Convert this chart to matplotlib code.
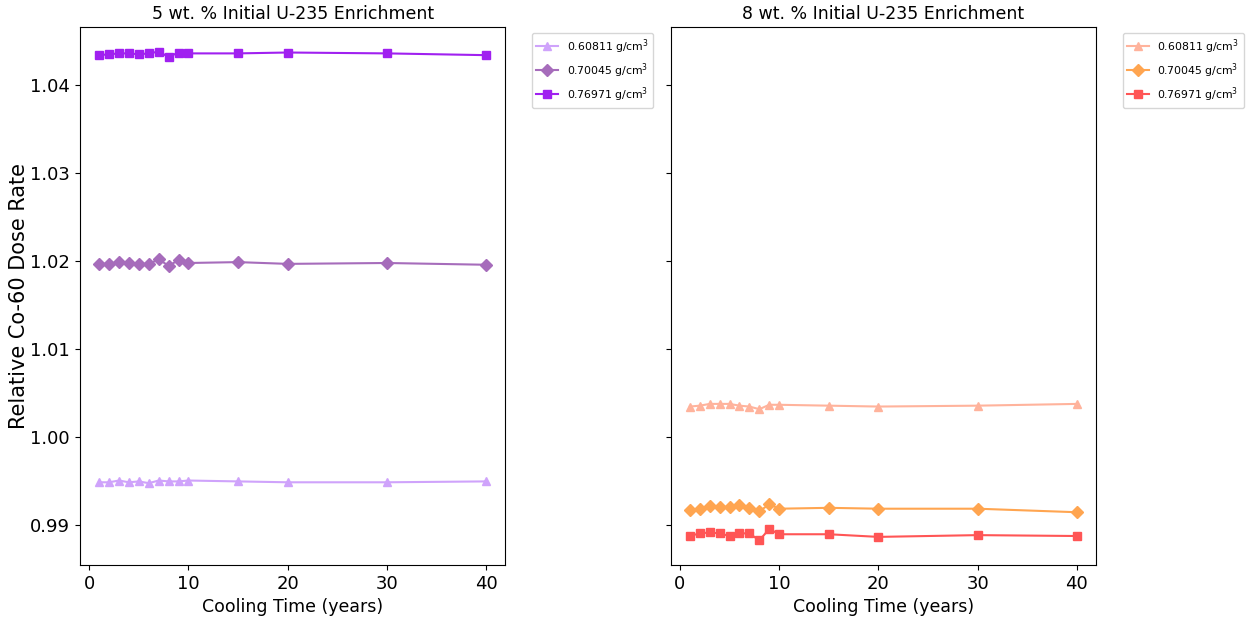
import numpy as np
import matplotlib.pyplot as plt

# cooling time in years
t = [1, 2, 3, 4, 5, 6, 7, 8, 9, 10, 15, 20, 30, 40]

labels = ['0.60811 g/cm$^3$', '0.70045 g/cm$^3$', '0.76971 g/cm$^3$']

# 5 wt.% enrichment
e5_d1 = [0.9949, 0.9949, 0.9951, 0.9949, 0.9950, 0.9948, 0.9951, 0.9950, 0.9950, 0.9951, 0.9950, 0.9949, 0.9949, 0.9950]
e5_d2 = [1.0197, 1.0197, 1.0199, 1.0198, 1.0197, 1.0197, 1.0202, 1.0195, 1.0201, 1.0198, 1.0199, 1.0197, 1.0198, 1.0196]
e5_d3 = [1.0434, 1.0435, 1.0436, 1.0436, 1.0435, 1.0436, 1.0438, 1.0432, 1.0437, 1.0436, 1.0436, 1.0437, 1.0436, 1.0434]

# 8 wt.% enrichment
e8_d1 = [1.0035, 1.0036, 1.0038, 1.0038, 1.0038, 1.0036, 1.0035, 1.0032, 1.0037, 1.0037, 1.0036, 1.0035, 1.0036, 1.0038]
e8_d2 = [0.9917, 0.9919, 0.9922, 0.9921, 0.9921, 0.9923, 0.9920, 0.9916, 0.9924, 0.9919, 0.9920, 0.9919, 0.9919, 0.9915]
e8_d3 = [0.9888, 0.9891, 0.9892, 0.9891, 0.9888, 0.9891, 0.9891, 0.9883, 0.9896, 0.9890, 0.9890, 0.9887, 0.9889, 0.9888]

markers = ['^', 'D', 's']
c5 = ['#cfa3fb', '#a66cbb', '#a020f0']
c8 = ['#ffb39c', '#ffa550', '#ff5555']

fig, (ax1, ax2) = plt.subplots(1, 2, sharey=True, figsize=(12.47, 6.18), dpi=100)
fig.subplots_adjust(left=0.064, right=0.879, bottom=0.086, top=0.956, wspace=0.388)

for y, m, c, lab in zip([e5_d1, e5_d2, e5_d3], markers, c5, labels):
  ax1.plot(t, y, marker=m, color=c, label=lab, markersize=6)
for y, m, c, lab in zip([e8_d1, e8_d2, e8_d3], markers, c8, labels):
  ax2.plot(t, y, marker=m, color=c, label=lab, markersize=6)

ax1.set_title('5 wt. % Initial U-235 Enrichment', fontsize=12.5)
ax2.set_title('8 wt. % Initial U-235 Enrichment', fontsize=12.5)
ax1.set_ylabel('Relative Co-60 Dose Rate', fontsize=15, labelpad=1)
for ax in (ax1, ax2):
  ax.set_xlabel('Cooling Time (years)', fontsize=12.5)
  ax.tick_params(labelsize=13)
  ax.set_xticks([0, 10, 20, 30, 40])
  ax.legend(loc='upper left', bbox_to_anchor=(1.05, 1), fontsize=7.8)
ax1.set_yticks([0.99, 1.00, 1.01, 1.02, 1.03, 1.04])

plt.savefig('out.png')
